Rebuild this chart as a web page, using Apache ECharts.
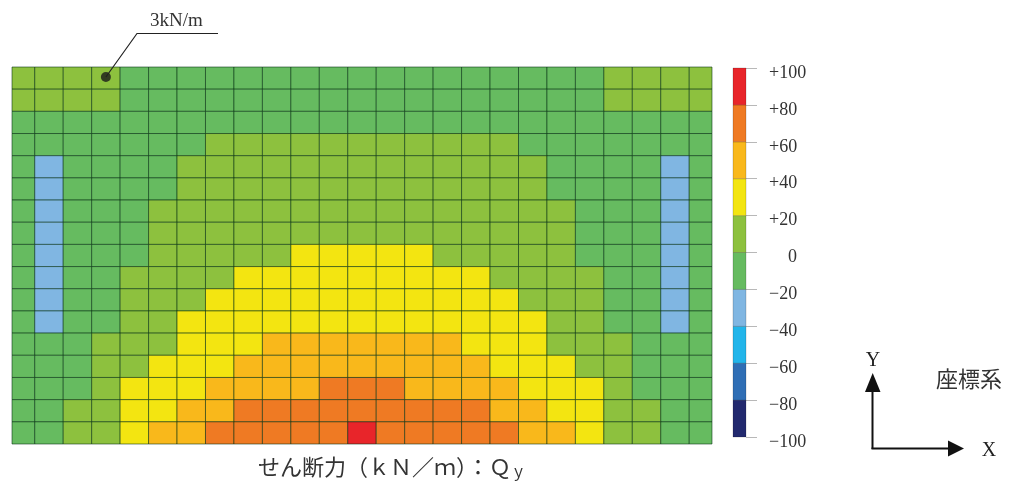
<!DOCTYPE html>
<html><head><meta charset="utf-8">
<script src="https://cdn.jsdelivr.net/npm/echarts@6/dist/echarts.min.js"></script>
<style>html,body{margin:0;padding:0;background:#fff}#c{width:1021px;height:487px}</style>
</head><body><div id="c"></div>
<script>
// element boundary coordinates along X (25 elements; narrower edge elements)
const meshX = [0, 0.8, 1.8, 2.8, 3.8, 4.8, 5.8, 6.8, 7.8, 8.8, 9.8, 10.8, 11.8, 12.8,
  13.8, 14.8, 15.8, 16.8, 17.8, 18.8, 19.8, 20.8, 21.8, 22.8, 23.8, 24.6];
const rowCount = 17;
// shear force Qy (kN/m), rows from top to bottom, 25 elements per row
const qy = [
  [8, 8, 8, 3, -6, -6, -6, -6, -6, -6, -6, -6, -6, -6, -6, -6, -6, -6, -6, -6, -6, 8, 8, 8, 8],
  [8, 8, 8, 6, -6, -6, -6, -6, -6, -6, -6, -6, -6, -6, -6, -6, -6, -6, -6, -6, -6, 6, 8, 8, 8],
  [-5, -5, -6, -6, -6, -6, -6, -5, -4, -4, -4, -4, -4, -4, -4, -4, -4, -5, -6, -6, -6, -6, -6, -5, -5],
  [-6, -8, -8, -8, -7, -6, -3, 4, 5, 6, 6, 6, 6, 6, 6, 6, 5, 4, -3, -6, -7, -8, -8, -8, -6],
  [-8, -25, -10, -9, -8, -5, 4, 7, 8, 9, 10, 10, 10, 10, 10, 9, 8, 7, 4, -5, -8, -9, -10, -25, -8],
  [-8, -26, -10, -9, -8, -4, 5, 8, 10, 11, 12, 12, 12, 12, 12, 11, 10, 8, 5, -4, -8, -9, -10, -26, -8],
  [-8, -27, -11, -9, -6, 3, 7, 10, 12, 14, 15, 15, 15, 15, 15, 14, 12, 10, 7, 3, -6, -9, -11, -27, -8],
  [-8, -27, -11, -8, -4, 5, 9, 12, 15, 17, 18, 19, 19, 19, 18, 17, 15, 12, 9, 5, -4, -8, -11, -27, -8],
  [-8, -28, -11, -8, -2, 7, 11, 14, 17, 19, 22, 23, 24, 23, 22, 19, 17, 14, 11, 7, -2, -8, -11, -28, -8],
  [-8, -28, -10, -6, 3, 9, 13, 18, 22, 25, 27, 29, 30, 29, 27, 25, 22, 18, 13, 9, 3, -6, -10, -28, -8],
  [-8, -27, -9, -4, 5, 12, 17, 22, 27, 31, 34, 35, 36, 35, 34, 31, 27, 22, 17, 12, 5, -4, -9, -27, -8],
  [-7, -24, -8, -2, 8, 15, 22, 27, 32, 36, 38, 39, 39, 39, 38, 36, 32, 27, 22, 15, 8, -2, -8, -24, -7],
  [-7, -15, -5, 4, 11, 18, 26, 32, 38, 43, 46, 48, 49, 48, 46, 43, 38, 32, 26, 18, 11, 4, -5, -15, -7],
  [-6, -10, -3, 7, 15, 22, 30, 36, 43, 49, 53, 56, 58, 56, 53, 49, 43, 36, 30, 22, 15, 7, -3, -10, -6],
  [-5, -6, -1, 11, 21, 28, 36, 44, 52, 57, 59, 62, 64, 62, 59, 57, 52, 44, 36, 28, 21, 11, -1, -6, -5],
  [-4, -3, 4, 15, 25, 34, 44, 55, 62, 67, 70, 72, 74, 72, 70, 67, 62, 55, 44, 34, 25, 15, 4, -3, -4],
  [-3, -2, 7, 17, 28, 41, 51, 62, 68, 72, 75, 78, 82, 78, 75, 72, 68, 62, 51, 41, 28, 17, 7, -2, -3]
];
const ticks = [-100, -80, -60, -40, -20, 0, 20, 40, 60, 80, 100];
const bandColors = ['#22296e', '#2f6eb5', '#22b5ea', '#80b6e2', '#66bb60', '#8dc13e', '#f3e511', '#f9b81b', '#ef7a23', '#e8252a'];
const labelCell = [3, 0];
const labelText = '3kN/m';

const cells = [];
for (let r = 0; r < rowCount; r++) for (let c = 0; c < qy[r].length; c++) cells.push([c, r, qy[r][c]]);
const bands = [];
for (let i = 0; i < ticks.length - 1; i++) bands.push([0, ticks[i], (ticks[i] + ticks[i + 1]) / 2, ticks[i + 1]]);
const pieces = bands.map((b, i) => (i === bands.length - 1 ? { gte: b[1], lte: b[3], color: bandColors[i] } : { gte: b[1], lt: b[3], color: bandColors[i] }));

const serif = "'Liberation Serif', 'DejaVu Serif', serif";
const jp = "'Noto Sans CJK JP', sans-serif";
const chart = echarts.init(document.getElementById('c'), null, { renderer: 'canvas' });
chart.setOption({
  animation: false,
  backgroundColor: '#fff',
  grid: [
    { left: 12, top: 67, width: 700, height: 377 },
    { left: 733, top: 68, width: 13, height: 369 }
  ],
  xAxis: [
    { gridIndex: 0, type: 'value', min: 0, max: meshX[meshX.length - 1], show: false },
    { gridIndex: 1, type: 'category', data: ['Qy'], show: false }
  ],
  yAxis: [
    { gridIndex: 0, type: 'value', min: 0, max: rowCount, inverse: true, show: false },
    {
      gridIndex: 1, type: 'value', min: -100, max: 100, interval: 20, position: 'right',
      axisLine: { show: false }, splitLine: { show: false },
      axisTick: { show: true, length: 11, lineStyle: { color: '#b8b8b8', width: 1 } },
      axisLabel: {
        show: true, margin: 23, align: 'left', color: '#333', fontFamily: serif, fontSize: 18,
        padding: [10, 0, 0, 0],
        formatter: v => (v > 0 ? '+' + v : v < 0 ? '\u2212' + (-v) : '{z|0}'),
        rich: { z: { fontFamily: serif, fontSize: 18, color: '#333', padding: [0, 0, 0, 19] } }
      }
    }
  ],
  visualMap: {
    type: 'piecewise', show: false, dimension: 2, seriesIndex: [0, 1], pieces: pieces
  },
  series: [
    {
      type: 'custom', xAxisIndex: 0, yAxisIndex: 0, data: cells,
      encode: { x: 0, y: 1 },
      renderItem: function (params, api) {
        const c = api.value(0), r = api.value(1);
        const p0 = api.coord([meshX[c], r]);
        const p1 = api.coord([meshX[c + 1], r + 1]);
        return {
          type: 'rect',
          shape: { x: p0[0], y: Math.min(p0[1], p1[1]), width: p1[0] - p0[0], height: Math.abs(p1[1] - p0[1]) },
          style: { fill: api.visual('color'), stroke: 'rgba(0,45,15,0.55)', lineWidth: 1 }
        };
      }
    },
    {
      type: 'custom', xAxisIndex: 1, yAxisIndex: 1, data: bands,
      encode: { x: 0, y: [1, 3] },
      renderItem: function (params, api) {
        const top = api.coord([0, api.value(3)]);
        const bot = api.coord([0, api.value(1)]);
        const w = api.size([1, 0])[0];
        return {
          type: 'rect',
          shape: { x: top[0] - w / 2, y: top[1], width: w, height: bot[1] - top[1] },
          style: { fill: api.visual('color'), stroke: 'rgba(0,0,0,0.22)', lineWidth: 0.8 }
        };
      }
    },
    {
      type: 'scatter', xAxisIndex: 0, yAxisIndex: 0, z: 5, symbolSize: 10, silent: true,
      itemStyle: { color: '#1a1a1a' },
      data: [[(meshX[labelCell[0]] + meshX[labelCell[0] + 1]) / 2, labelCell[1] + 0.45]]
    }
  ]
});

const dot = chart.convertToPixel({ gridIndex: 0 }, [(meshX[labelCell[0]] + meshX[labelCell[0] + 1]) / 2, labelCell[1] + 0.45]);
chart.setOption({
  graphic: [
    { type: 'polyline', shape: { points: [[218, 33.5], [137, 33.5], dot] }, style: { stroke: '#222', lineWidth: 1.2, fill: null }, z: 10 },
    { type: 'text', x: 150, y: 21, style: { text: labelText, font: '19px ' + serif, fill: '#333', textVerticalAlign: 'middle' }, z: 10 },
    {
      type: 'text', x: 392, y: 467,
      style: {
        text: 'せん断力（ｋＮ／ｍ）：Ｑ{s|ｙ}', font: '22px ' + jp, fill: '#333', align: 'center', verticalAlign: 'middle',
        rich: { s: { font: '15px ' + jp, fill: '#333', padding: [8, 0, 0, 0] } }
      }, z: 10
    },
    { type: 'line', shape: { x1: 872.5, y1: 449, x2: 872.5, y2: 390 }, style: { stroke: '#111', lineWidth: 2 }, z: 10 },
    { type: 'polygon', shape: { points: [[865, 392], [880.5, 392], [872.7, 373]] }, style: { fill: '#111' }, z: 10 },
    { type: 'line', shape: { x1: 871.5, y1: 448.5, x2: 950, y2: 448.5 }, style: { stroke: '#111', lineWidth: 2 }, z: 10 },
    { type: 'polygon', shape: { points: [[948, 440.5], [948, 456.5], [964, 448.5]] }, style: { fill: '#111' }, z: 10 },
    { type: 'text', x: 873, y: 361, style: { text: 'Y', font: '20px ' + serif, fill: '#222', align: 'center', verticalAlign: 'middle' }, z: 10 },
    { type: 'text', x: 989, y: 451, style: { text: 'X', font: '20px ' + serif, fill: '#222', align: 'center', verticalAlign: 'middle' }, z: 10 },
    { type: 'text', x: 969, y: 379, style: { text: '座標系', font: '22px ' + jp, fill: '#333', align: 'center', verticalAlign: 'middle' }, z: 10 }
  ]
});
</script></body></html>
